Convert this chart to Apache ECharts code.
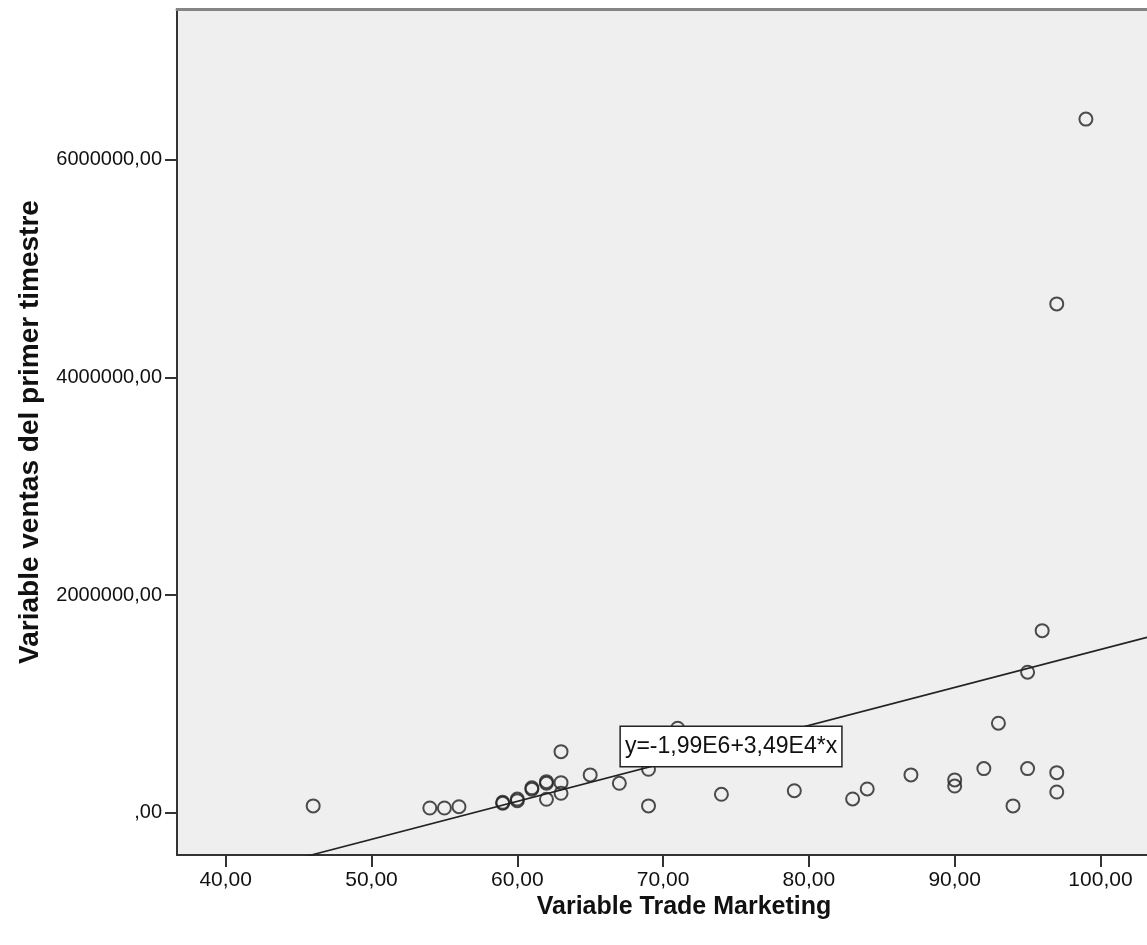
<!DOCTYPE html>
<html>
<head>
<meta charset="utf-8">
<script src="https://cdn.jsdelivr.net/npm/echarts@6/dist/echarts.min.js"></script>
<style>
  html, body { margin: 0; padding: 0; background: #ffffff; }
  #chart { width: 1147px; height: 945px; }
</style>
</head>
<body>
<div id="chart"></div>
<script>
// Trade marketing score (x) vs first-quarter sales (y), one point per case
const tradeMarketing = [46, 54, 55, 56, 59, 59, 60, 60, 61, 61, 62, 62, 62, 63, 63, 63, 65, 67, 69, 69,
  71, 74, 79, 83, 84, 87, 90, 90, 92, 93, 94, 95, 95, 96, 97, 97, 97, 99];
const ventasPrimerTrimestre = [62000, 43000, 43000, 55000, 86000, 95000, 110000, 125000, 215000, 228000,
  270000, 285000, 123000, 561000, 276000, 178000, 347000, 270000, 399000, 62000,
  776000, 169000, 202000, 126000, 218000, 347000, 301000, 245000, 405000, 822000,
  62000, 405000, 1291000, 1673000, 368000, 190000, 4676000, 6374000];

// Linear fit shown in the annotation
const fitIntercept = -1.99e6;
const fitSlope = 3.49e4;
const fitLabel = 'y=-1,99E6+3,49E4*x';

// Tick positions
const xTicks = [40, 50, 60, 70, 80, 90, 100];
const yTicks = [0, 2000000, 4000000, 6000000];

const xMin = 36.66, xMax = 103.19;
const yMin = -389000, yMax = 7386000;

const points = tradeMarketing.map((x, i) => [x, ventasPrimerTrimestre[i]]);
const fitLine = [xMin, xMax].map(x => [x, fitIntercept + fitSlope * x]);

const fmt = v => (v === 0 ? ',00' : v.toFixed(2).replace('.', ','));

const axisFont = 'Liberation Sans, Arial, sans-serif';

const chart = echarts.init(document.getElementById('chart'), null, { renderer: 'canvas' });
chart.setOption({
  animation: false,
  backgroundColor: '#ffffff',
  grid: {
    left: 177, top: 9, right: 0, bottom: 90,
    show: true,
    backgroundColor: '#efefef',
    borderWidth: 0
  },
  xAxis: [{
    type: 'value',
    min: xMin, max: xMax,
    name: 'Variable Trade Marketing',
    nameLocation: 'middle',
    nameGap: 40,
    nameMoveOverlap: false,
    nameTextStyle: { fontFamily: axisFont, fontWeight: 'bold', fontSize: 25, color: '#111', padding: [0, 0, 0, 44] },
    axisLine: { show: true, onZero: false, lineStyle: { color: '#333', width: 2 } },
    axisTick: { show: true, customValues: xTicks, length: 12, lineStyle: { color: '#333', width: 2 } },
    axisLabel: { customValues: xTicks, formatter: fmt, margin: 15, fontFamily: axisFont, fontSize: 21, color: '#111' },
    splitLine: { show: false }
  }, {
    // plain frame line along the top of the plot
    type: 'value',
    position: 'top',
    min: xMin, max: xMax,
    axisLine: { show: true, onZero: false, lineStyle: { color: '#858585', width: 3 } },
    axisTick: { show: false },
    axisLabel: { show: false },
    splitLine: { show: false }
  }],
  yAxis: {
    type: 'value',
    min: yMin, max: yMax,
    name: 'Variable ventas del primer timestre',
    nameLocation: 'middle',
    nameGap: 133,
    nameMoveOverlap: false,
    nameRotate: 90,
    nameTextStyle: { fontFamily: axisFont, fontWeight: 'bold', fontSize: 28, color: '#111' },
    axisLine: { show: true, onZero: false, lineStyle: { color: '#333', width: 2 } },
    axisTick: { show: true, customValues: yTicks, length: 12, lineStyle: { color: '#333', width: 2 } },
    axisLabel: { customValues: yTicks, formatter: fmt, margin: 15, fontFamily: axisFont, fontSize: 20, color: '#111' },
    splitLine: { show: false }
  },
  series: [
    {
      type: 'line',
      data: fitLine,
      symbol: 'none',
      clip: true,
      lineStyle: { color: '#222', width: 1.6 },
      z: 2
    },
    {
      type: 'scatter',
      data: points,
      symbol: 'circle',
      symbolSize: 13,
      itemStyle: { color: 'rgba(0,0,0,0)', borderColor: '#222', borderWidth: 2 },
      z: 3
    },
    {
      type: 'scatter',
      data: [],
      z: 10,
      markPoint: {
        symbol: 'rect',
        symbolSize: 0,
        data: [{ coord: [74.66, 609000] }],
        label: {
          show: true,
          position: 'inside',
          formatter: fitLabel,
          fontFamily: axisFont,
          fontSize: 23,
          color: '#111',
          backgroundColor: '#ffffff',
          borderColor: '#222',
          borderWidth: 1.5,
          padding: [8, 4, 8, 4]
        },
        z: 10
      }
    }
  ]
});
</script>
</body>
</html>
